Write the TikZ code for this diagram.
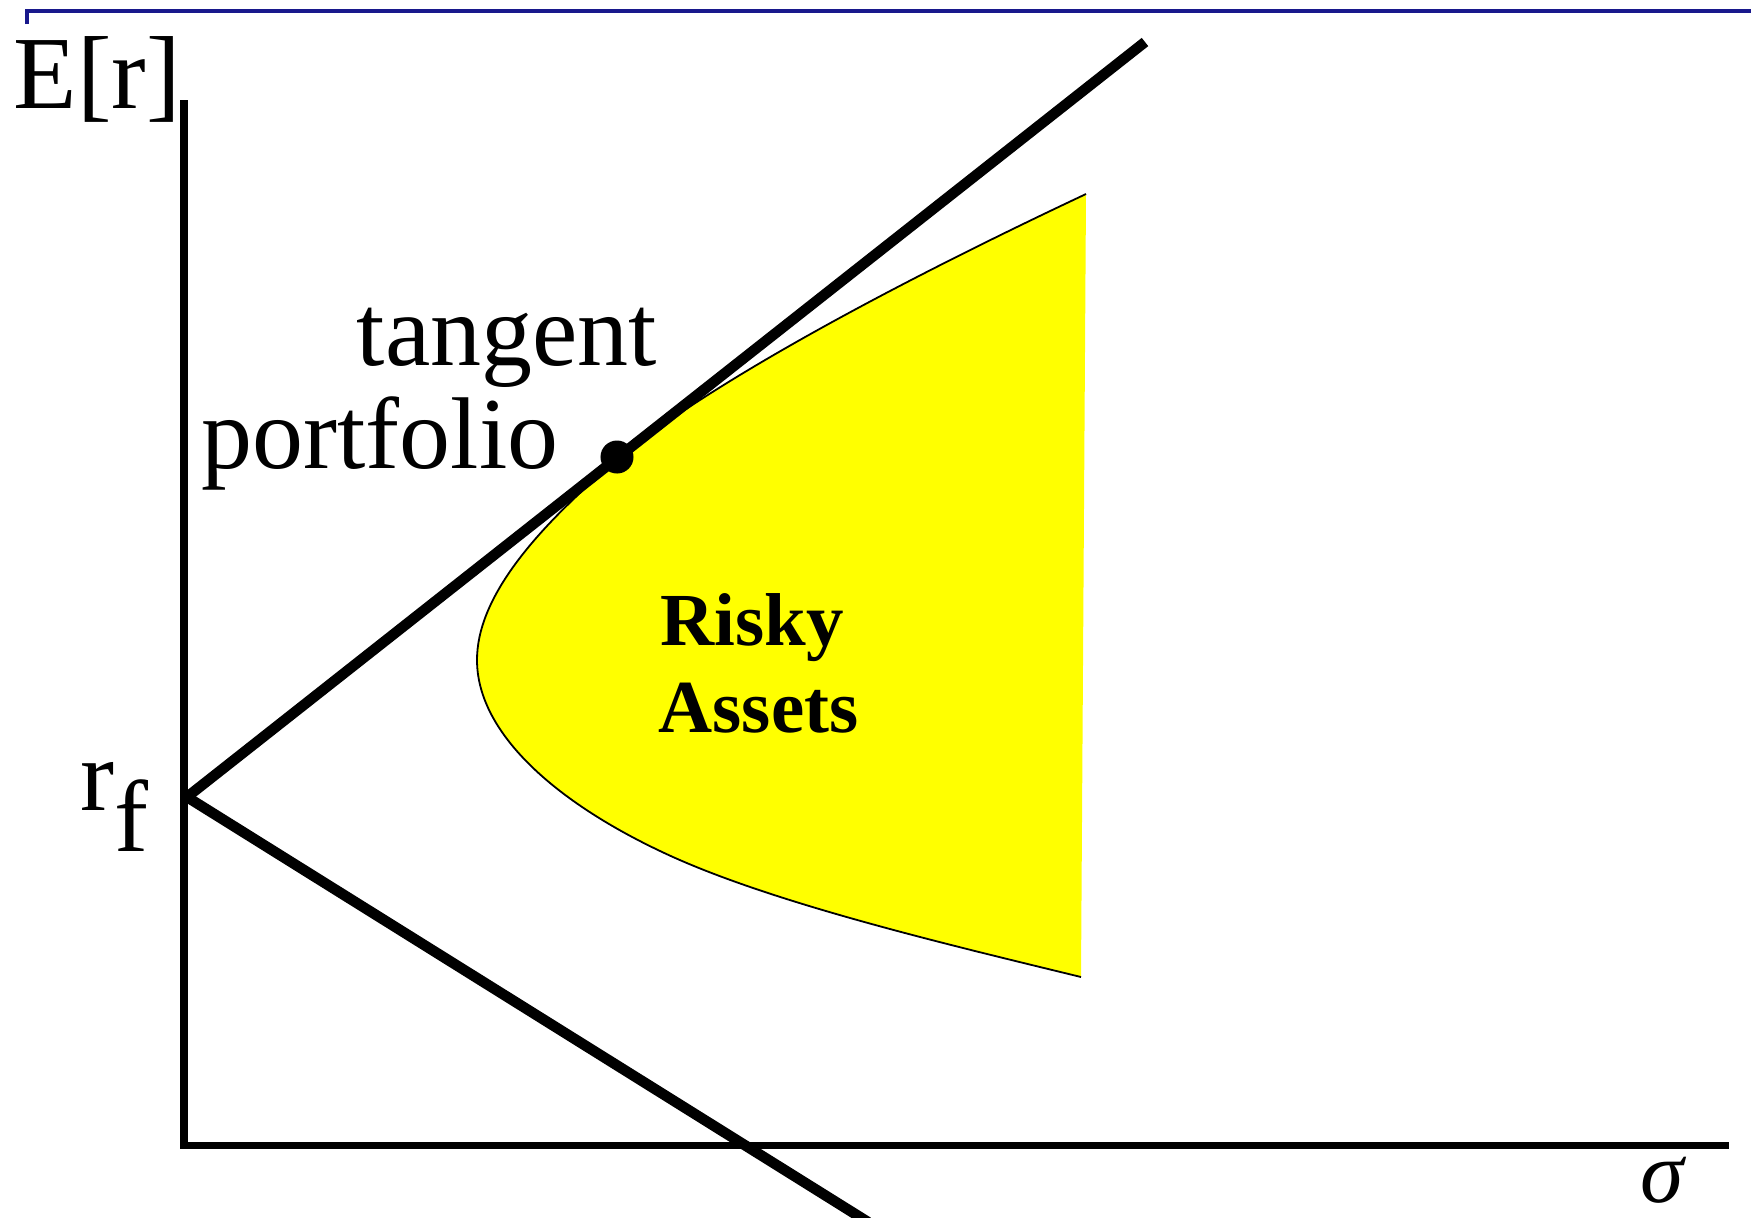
\documentclass[tikz,border=0pt]{standalone}
\usepackage{fontspec}
\setmainfont{Liberation Serif}
\definecolor{frameblue}{RGB}{24, 24, 140}
\definecolor{riskyyellow}{RGB}{255, 255, 0}
\usetikzlibrary{positioning}

\begin{document}
\begin{tikzpicture}[x=0.01cm, y=-0.01cm,
  axisline/.style={line width=0.07cm, line cap=rect},
  cmlline/.style={line width=0.105cm},
  frontier/.style={line width=0.018cm},
  lbl/.style={inner sep=0pt, anchor=base west, font=\fontsize{29}{34}\selectfont},
  riskylbl/.style={inner sep=0pt, anchor=base west, font=\bfseries\fontsize{21.3}{25}\selectfont}
]
  \useasboundingbox (0,0) rectangle (1751,1217);

  % top frame stroke
  \draw[frameblue, line width=0.035cm] (27,24) -- (27,11) -- (1751,11);

  % risky assets region
  \fill[riskyyellow] (1086,194) .. controls (850,305) and (690,398) .. (617,460)
    .. controls (530,534) and (477,600) .. (477,660)
    .. controls (477,735) and (560,806) .. (673,857)
    .. controls (780,905) and (950,945) .. (1081,977) -- cycle;
  \draw[frontier] (1086,194) .. controls (850,305) and (690,398) .. (617,460)
    .. controls (530,534) and (477,600) .. (477,660)
    .. controls (477,735) and (560,806) .. (673,857)
    .. controls (780,905) and (950,945) .. (1081,977);

  % axes
  \coordinate (ytop) at (184,103);
  \coordinate (orig) at (184,1145);
  \coordinate (xend) at (1725,1145);
  \draw[axisline] (ytop) -- (orig) -- (xend);

  % lines through the risk-free rate
  \coordinate (rfpt) at (187,797);
  \coordinate (cmltop) at (1145,42);
  \coordinate (lowend) at (868,1222);
  \draw[cmlline] (rfpt) -- (cmltop);
  \draw[cmlline] (rfpt) -- (lowend);
  \node[circle, fill, inner sep=0pt, minimum size=0.33cm] (tp) at (617,457) {};

  % labels
  \node[lbl, font=\fontsize{29.5}{34}\selectfont] (er) at (13,108) {E[r]};
  \node[lbl] (rf) at (80,810) {r\raisebox{-0.41em}{f}};
  \node[lbl, font=\fontsize{25}{30}\selectfont] (sigma) at (1640,1202) {\textit{σ}};
  \node[lbl] (tangent) at (356,365) {tangent};
  \node[lbl] (portfolio) at (201,468) {portfolio};
  \node[riskylbl] (risky) at (660,645) {Risky};
  \node[riskylbl] (assets) at (658,732) {Assets};
\end{tikzpicture}
\end{document}
